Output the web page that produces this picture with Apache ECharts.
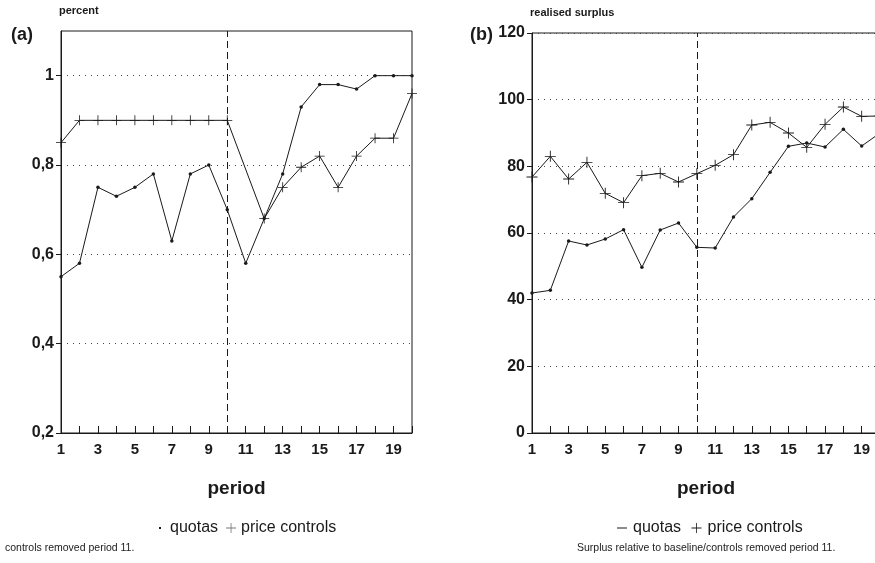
<!DOCTYPE html>
<html>
<head>
<meta charset="utf-8">
<script src="https://cdn.jsdelivr.net/npm/echarts@6/dist/echarts.min.js"></script>
<style>html,body{margin:0;padding:0;background:#fff}#c{width:875px;height:563px}</style>
</head>
<body>
<div id="c"></div>
<script>
// ---- data ----
var periods = [1,2,3,4,5,6,7,8,9,10,11,12,13,14,15,16,17,18,19,20];
var quotasA = [0.55,0.58,0.75,0.73,0.75,0.78,0.63,0.78,0.80,0.70,0.58,0.68,0.78,0.93,0.98,0.98,0.97,1.00,1.00,1.00];
var priceA  = [0.85,0.90,0.90,0.90,0.90,0.90,0.90,0.90,0.90,0.90,null,0.68,0.75,0.795,0.82,0.75,0.82,0.86,0.86,0.96];
var quotasB = [42.0,42.8,57.6,56.4,58.2,61.0,49.7,60.9,63.0,55.7,55.5,64.8,70.3,78.2,86.0,87.0,85.8,91.1,86.1,90.0];
var priceB  = [76.8,83.0,76.2,81.2,71.9,69.1,77.2,77.9,75.3,77.8,80.3,83.5,92.4,93.2,90.0,85.7,92.6,97.8,95.0,95.1];
var xTickLabels = ['1','3','5','7','9','11','13','15','17','19'];
var yTickValuesA = [0.2,0.4,0.6,0.8,1.0];
var yTickLabelsA = ['0,2','0,4','0,6','0,8','1'];
var yTickValuesB = [0,20,40,60,80,100,120];
var yTickLabelsB = ['0','20','40','60','80','100','120'];
var removalLine = 10;

function pairs(vals){ return periods.map(function(p,i){ return [p, vals[i]]; }); }
function lookup(values, labels){
  return function(v){
    for (var i=0;i<values.length;i++){ if (Math.abs(values[i]-v) < 1e-6) return labels[i]; }
    return '';
  };
}
function xLabel(v){ var s = String(Math.round(v)); return xTickLabels.indexOf(s) >= 0 ? s : ''; }

var INK = '#1a1a1a';
var FONT = "'Liberation Sans Narrow','Liberation Sans',Arial,sans-serif";
var SANS = "'Liberation Sans',Arial,sans-serif";
var PLUS = 'path://M4.6,0H5.4V4.6H10V5.4H5.4V10H4.6V5.4H0V4.6H4.6Z';
var SMALLDOT = 'path://M0,0L0.01,0M10,10L9.99,10M4,4H6V6H4Z';
var DASHLINE = 'path://M0,0L0.01,0M10,10L9.99,10M0,4.6H10V5.4H0Z';

function xAxisCfg(gi){
  return {
    gridIndex: gi, type: 'value', min: 1, max: 20, interval: 1,
    name: 'period', nameLocation: 'middle', nameGap: 46,
    nameTextStyle: {fontFamily: SANS, fontWeight: 'bold', fontSize: 19, color: INK},
    axisLine: {show: true, onZero: false, lineStyle: {color: INK, width: 1}},
    axisTick: {show: true, inside: true, length: 7, lineStyle: {color: INK}},
    axisLabel: {formatter: xLabel, fontFamily: FONT, fontWeight: 'bold', fontSize: 15, color: INK, margin: 9},
    splitLine: {show: false}
  };
}
function yAxisCfg(gi, min, max, interval, vals, labels, name){
  return {
    gridIndex: gi, type: 'value', min: min, max: max, interval: interval,
    name: name, nameLocation: 'end', nameGap: 15,
    nameTextStyle: {fontFamily: SANS, fontWeight: 'bold', fontSize: 11, color: INK, align: 'left', padding: [0,0,0,-2]},
    axisLine: {show: true, lineStyle: {color: INK, width: 1}},
    axisTick: {show: true, inside: false, length: 5, customValues: vals, lineStyle: {color: INK}},
    axisLabel: {formatter: lookup(vals, labels), customValues: vals, fontFamily: SANS, fontWeight: 'bold', fontSize: 16, color: INK, margin: 7},
    splitLine: {show: true, lineStyle: {color: '#444', width: 1, type: [1,5]}}
  };
}
function vline(){
  return {
    silent: true, symbol: ['none','none'], label: {show: false},
    lineStyle: {color: INK, width: 1, type: [7,4]},
    data: [{xAxis: removalLine}]
  };
}

var option = {
  backgroundColor: '#fff',
  animation: false,
  title: [
    {text: '(a)', left: 6, top: 21, textStyle: {fontFamily: SANS, fontWeight: 'bold', fontSize: 18, color: INK}},
    {text: '(b)', left: 465, top: 21, textStyle: {fontFamily: SANS, fontWeight: 'bold', fontSize: 18, color: INK}},
    {text: 'controls removed period 11.', left: 5, top: 543, padding: 0, textStyle: {fontFamily: FONT, fontWeight: 'normal', fontSize: 10.5, color: INK}},
    {text: 'Surplus relative to baseline/controls removed period 11.', left: 577, top: 543, padding: 0, textStyle: {fontFamily: FONT, fontWeight: 'normal', fontSize: 10.5, color: INK}}
  ],
  legend: [
    {
      left: 150, top: 515, itemWidth: 10, itemHeight: 10, itemGap: 8,
      textStyle: {fontFamily: FONT, fontSize: 16, color: INK},
      data: [
        {name: 'quotas', icon: SMALLDOT, itemStyle: {color: INK}},
        {name: 'price controls', icon: PLUS, itemStyle: {color: '#777'}}
      ],
      selectedMode: false
    },
    {
      left: 612, top: 515, itemWidth: 12, itemHeight: 10, itemGap: 6,
      textStyle: {fontFamily: FONT, fontSize: 16, color: INK},
      data: [
        {name: 'quotas ', icon: DASHLINE, itemStyle: {color: INK}},
        {name: 'price controls ', icon: PLUS, itemStyle: {color: INK}}
      ],
      selectedMode: false
    }
  ],
  grid: [
    {left: 61, right: 463, top: 31, bottom: 130, outerBoundsMode: 'none', containLabel: false, show: true, borderColor: INK, borderWidth: 1, backgroundColor: 'transparent'},
    {left: 532, right: -5, top: 33, bottom: 130, outerBoundsMode: 'none', containLabel: false, show: true, borderColor: INK, borderWidth: 1, backgroundColor: 'transparent'}
  ],
  xAxis: [xAxisCfg(0), xAxisCfg(1)],
  yAxis: [
    yAxisCfg(0, 0.2, 1.1, 0.2, yTickValuesA, yTickLabelsA, 'percent'),
    yAxisCfg(1, 0, 120, 20, yTickValuesB, yTickLabelsB, 'realised surplus')
  ],
  series: [
    {name: 'quotas', type: 'line', xAxisIndex: 0, yAxisIndex: 0, data: pairs(quotasA),
     symbol: 'circle', symbolSize: 3.5, itemStyle: {color: INK}, lineStyle: {color: INK, width: 1}, markLine: vline()},
    {name: 'price controls', type: 'line', xAxisIndex: 0, yAxisIndex: 0, data: pairs(priceA), connectNulls: true,
     symbol: PLUS, symbolSize: 10, itemStyle: {color: INK}, lineStyle: {color: INK, width: 1}},
    {name: 'quotas ', type: 'line', xAxisIndex: 1, yAxisIndex: 1, data: pairs(quotasB),
     symbol: 'circle', symbolSize: 3.5, itemStyle: {color: INK}, lineStyle: {color: INK, width: 1}, markLine: vline()},
    {name: 'price controls ', type: 'line', xAxisIndex: 1, yAxisIndex: 1, data: pairs(priceB),
     symbol: PLUS, symbolSize: 11, itemStyle: {color: INK}, lineStyle: {color: INK, width: 1}}
  ]
};
var chart = echarts.init(document.getElementById('c'), null, {renderer: 'canvas'});
chart.setOption(option);
</script>
</body>
</html>
